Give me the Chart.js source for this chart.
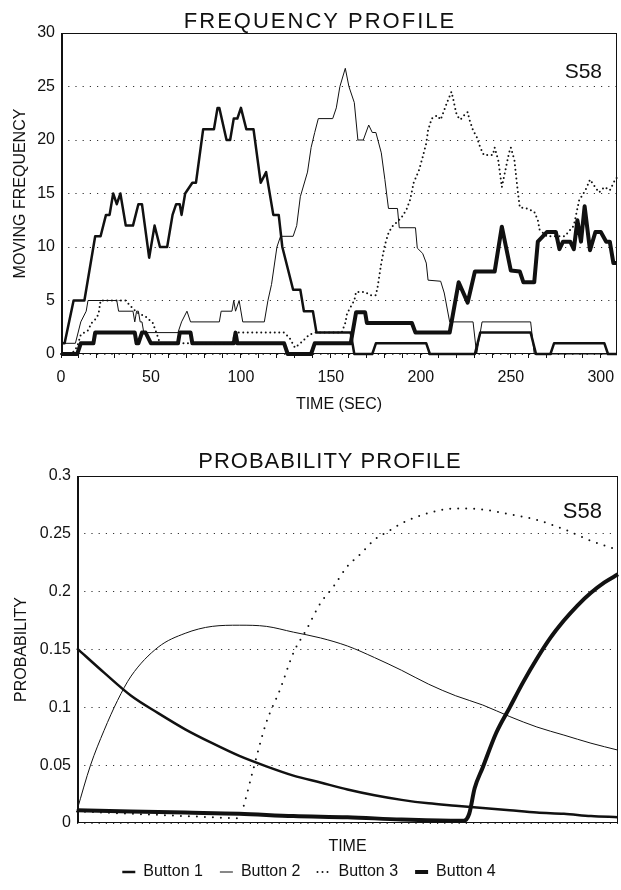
<!DOCTYPE html>
<html>
<head>
<meta charset="utf-8">
<script src="https://cdn.jsdelivr.net/npm/chart.js@4"></script>
<style>
html,body{margin:0;padding:0;background:#fff;width:621px;height:890px;overflow:hidden}
canvas{position:absolute;left:0}
#c1{top:0}
#c2{top:425px}
</style>
</head>
<body>
<canvas id="c1" width="621" height="425"></canvas>
<canvas id="c2" width="621" height="465"></canvas>
<script>
// ---------- FREQUENCY PROFILE data (time in seconds, moving frequency) ----------
const b1T = [0,2,7,13,19,22,25,27,29,31,33,36,40,43,45,49,52,55,59,62,64,66,67,69,73,75,79,85,87,88,92,94,96,98,100,103,107,111,114,118,121,123,129,133,135,140,142,161,163,173,175,203,205,230,233,261,264,272,274,302,304,309];
const b1V = [1,1,5,5,11,11,13,13,15,14,15,12,12,14,14,9,12,10,10,13,14,14,13,15,16,16,21,21,23,23,20,20,22,22,23,21,21,16,17,13,13,10,6,6,4,4,2,2,0,0,1,1,0,0,2,2,0,0,1,1,0,0];

const b2T = [0,8,11,14,15,31,32,40,41,42,43,44,45,46,65,67,70,72,88,89,95,96,97,99,101,113,115,117,120,122,129,131,133,137,139,141,143,151,153,155,158,160,163,165,168,171,173,175,178,180,182,187,188,197,198,201,203,204,211,213,216,229,231,234,261,263,309];
const b2V = [1,1,3,4,5,5,4,4,3,4,4,3,3,2,2,3,4,3,3,4,4,5,4,5,3,3,5,6.5,10,11,11,12,14.7,17,19.3,20.7,22,22,23,25,26.7,25,23.5,20,20,21.4,20.7,20.7,18.8,16.3,13.6,13.6,11.8,11.8,9.9,9.4,8.5,6.9,6.8,5.7,3,3,0,3,3,0,0];

const b3T = [0,6,9,11,15,17,20,21,22,36,38,42,47,51,53,55,95,97,124,127,130,133,138,141,156,158,159,161,163,164,169,172,175,176,178,180,182,184,189,192,194,196,199,201,203,204,206,209,211,213,215,217,218,219,220,222,224,226,227,229,231,233,235,240,241,243,245,247,249,250,252,253,254,255,259,263,265,266,270,275,280,285,288,290,292,294,296,299,302,305,308,309];
const b3V = [0,0,0.7,1.8,2.2,2.9,3.4,3.9,5,5,4.6,3.9,3.5,2.9,2,1,1,2,2,1.5,0.6,1,1.8,2,2,2.9,3.8,4.4,5,5.8,5.8,5.5,5.5,6.3,8.5,10.2,11.3,11.9,12.7,13.5,14.4,16,17.2,18.4,19.7,20.9,22,22.3,21.9,22.8,23.7,24.5,23.8,23,22.3,21.9,22.3,22.6,21.9,20.9,20.3,19.3,18.6,18.6,19.3,18.1,15.6,17.2,18.8,19.3,18.1,16.5,15,13.7,13.6,13.3,12.5,11.6,11,11,11,12,14.4,14.9,15.5,16.3,15.8,15.1,15.6,15.3,16.3,16.5];

const b4T = [0,9,11,18,19,41,42,43,45,47,50,65,66,72,73,96,97,98,124,126,139,141,161,164,169,170,195,197,216,221,226,230,241,245,250,255,257,263,265,270,275,277,279,283,285,287,289,291,294,297,300,303,305,307,309];
const b4V = [0,0,1,1,2,2,1,1,2,2,1,1,2,2,1,1,2,1,1,0,0,1,1,3.9,3.9,2.9,2.9,2,2,6.7,4.8,7.7,7.7,11.9,7.8,7.7,6.7,6.7,10.5,11.4,11.4,9.8,10.5,10.5,9.8,12.5,10.5,13.8,9.7,11.4,11.4,10.5,10.5,8.5,8.5];

const freqTicks = [0,5,10,15,20,25,30];
const timeLabelStep = 50;

// ---------- PROBABILITY PROFILE data (relative time 0-100, probability) ----------
const p1X = [0,5,10,15,20,25,30,35,40,45,50,55,60,65,70,75,80,85,90,95,100];
const p1Y = [0.151,0.130,0.110,0.095,0.081,0.069,0.058,0.049,0.041,0.035,0.029,0.024,0.020,0.017,0.015,0.013,0.011,0.009,0.008,0.006,0.005];

const p2X = [0,2.5,5,7.5,10,15,20,25,30,35,40,45,50,55,60,65,70,75,80,85,90,95,100];
const p2Y = [0.011,0.050,0.080,0.106,0.127,0.152,0.164,0.170,0.171,0.170,0.165,0.160,0.153,0.143,0.132,0.120,0.110,0.102,0.092,0.083,0.076,0.069,0.063];

const p3X = [0,5,10,15,20,25,30,31,32.5,35,37.5,40,42.5,45,47.5,50,52.5,55,57.5,60,65,70,75,80,85,90,95,100];
const p3Y = [0.010,0.009,0.008,0.007,0.006,0.005,0.004,0.018,0.045,0.087,0.115,0.147,0.168,0.190,0.205,0.222,0.233,0.245,0.252,0.259,0.268,0.272,0.271,0.267,0.262,0.254,0.244,0.236];

const p4X = [0,10,20,30,40,50,60,70,71.5,72.5,73.5,75,77.5,80,82.5,85,87.5,90,92.5,95,97.5,100];
const p4Y = [0.011,0.010,0.009,0.008,0.006,0.005,0.003,0.002,0.002,0.008,0.030,0.048,0.078,0.100,0.122,0.142,0.160,0.175,0.188,0.199,0.208,0.215];

const buttonNames = ['Button 1','Button 2','Button 3','Button 4'];

// ---------- helpers ----------
const FONT = "'Liberation Sans', Arial, Helvetica, sans-serif";
Chart.defaults.font.family = FONT;
Chart.defaults.color = '#111';

function series(label, xs, ys, width, dotted, extra) {
  return Object.assign({
    label,
    data: xs.map((x, i) => ({x, y: ys[i]})),
    borderColor: '#111',
    backgroundColor: '#111',
    borderWidth: width,
    borderDash: dotted ? [0, dotted] : [],
    borderCapStyle: dotted ? 'round' : 'butt',
    borderJoinStyle: 'round',
    pointRadius: 0,
    pointHoverRadius: 0,
    tension: 0,
    fill: false,
    clip: 6
  }, extra || {});
}

const framePlugin = {
  id: 'frame',
  beforeDatasetsDraw(chart) {
    const {ctx, chartArea: a} = chart;
    ctx.save();
    ctx.strokeStyle = '#111';
    ctx.lineWidth = 1;
    ctx.setLineDash([]);
    ctx.strokeRect(a.left + 0.5, a.top + 0.5, a.right - a.left - 1, a.bottom - a.top - 1);
    ctx.lineWidth = 2;
    ctx.beginPath();
    ctx.moveTo(a.left + 1, a.top);
    ctx.lineTo(a.left + 1, a.bottom);
    ctx.stroke();
    ctx.restore();
  }
};

const notesPlugin = {
  id: 'notes',
  afterDraw(chart, args, opts) {
    const ctx = chart.ctx;
    (opts.items || []).forEach(n => {
      ctx.save();
      ctx.font = n.size + 'px ' + FONT;
      ctx.fillStyle = '#111';
      ctx.textAlign = n.align || 'center';
      ctx.textBaseline = 'alphabetic';
      if (n.spacing) ctx.letterSpacing = n.spacing + 'px';
      ctx.fillText(n.text, n.x, n.y);
      ctx.restore();
    });
  }
};

// ---------- top chart ----------
new Chart(document.getElementById('c1'), {
  type: 'line',
  data: {
    datasets: [
      series(buttonNames[0], b1T, b1V, 2.5, 0),
      series(buttonNames[1], b2T, b2V, 1, 0),
      series(buttonNames[2], b3T, b3V, 2, 4.5),
      series(buttonNames[3], b4T, b4V, 4, 0)
    ]
  },
  options: {
    responsive: false,
    animation: false,
    events: [],
    layout: {padding: {top: 33, right: 4, left: 0, bottom: 0}},
    plugins: {
      legend: {display: false},
      tooltip: {enabled: false},
      notes: {items: [
        {text: 'FREQUENCY PROFILE', x: 320, y: 28, size: 22, spacing: 2},
        {text: 'S58', x: 602, y: 78, size: 21, align: 'right'}
      ]}
    },
    scales: {
      x: {
        type: 'linear', min: 0, max: 309,
        afterFit: s => { s.height = 71; s.paddingLeft = 0; s.paddingRight = 0; },
        ticks: {
          stepSize: 10, autoSkip: false, maxRotation: 0, includeBounds: false,
          padding: 10, font: {size: 16}, color: '#111',
          callback: v => (v % timeLabelStep === 0 ? String(v) : '')
        },
        grid: {drawOnChartArea: false, drawTicks: true, tickLength: 4, color: '#111'},
        border: {display: false},
        title: {display: true, text: 'TIME (SEC)', font: {size: 16}, color: '#111', padding: {top: 0, bottom: 11}}
      },
      y: {
        min: 0, max: 30,
        afterFit: s => { s.width = 61; },
        afterBuildTicks: s => { s.ticks = freqTicks.map(v => ({value: v})); },
        ticks: {padding: 6, font: {size: 16}, color: '#111'},
        grid: {color: '#333', drawTicks: false, lineWidth: 1},
        border: {display: false, dash: [1.2, 6]},
        title: {display: true, text: 'MOVING FREQUENCY', font: {size: 16}, color: '#111', padding: {top: 11, bottom: 0}}
      }
    }
  },
  plugins: [framePlugin, notesPlugin]
});

// ---------- bottom chart ----------
new Chart(document.getElementById('c2'), {
  type: 'line',
  data: {
    datasets: [
      series(buttonNames[0], p1X, p1Y, 2.5, 0, {cubicInterpolationMode: 'monotone'}),
      series(buttonNames[1], p2X, p2Y, 1, 0, {cubicInterpolationMode: 'monotone'}),
      series(buttonNames[2], p3X, p3Y, 2, 8, {cubicInterpolationMode: 'monotone'}),
      series(buttonNames[3], p4X, p4Y, 4, 0, {cubicInterpolationMode: 'monotone'})
    ]
  },
  options: {
    responsive: false,
    animation: false,
    events: [],
    layout: {padding: {top: 51, right: 3, left: 0, bottom: 0}},
    plugins: {
      legend: {
        display: true, position: 'bottom',
        labels: {
          usePointStyle: true, pointStyle: 'line', pointStyleWidth: 13,
          padding: 17, font: {size: 16}, color: '#111',
          generateLabels: chart => chart.data.datasets.map((ds, i) => ({
            text: ds.label,
            datasetIndex: i,
            hidden: false,
            pointStyle: 'line',
            strokeStyle: '#111',
            fillStyle: '#111',
            fontColor: '#111',
            lineWidth: ds.borderWidth,
            lineDash: ds.borderDash && ds.borderDash.length ? [0, 5] : [],
            lineCap: ds.borderCapStyle
          }))
        }
      },
      tooltip: {enabled: false},
      notes: {items: [
        {text: 'PROBABILITY PROFILE', x: 330, y: 43, size: 22, spacing: 1},
        {text: 'S58', x: 602, y: 93, size: 22, align: 'right'}
      ]}
    },
    scales: {
      x: {
        type: 'linear', min: 0, max: 100,
        afterFit: s => { s.height = 24; s.paddingLeft = 0; s.paddingRight = 0; },
        ticks: {display: false},
        grid: {display: false},
        border: {display: false},
        title: {display: true, text: 'TIME', font: {size: 16}, color: '#111', padding: {top: 0, bottom: -9}}
      },
      y: {
        min: 0, max: 0.3,
        afterFit: s => { s.width = 77; },
        ticks: {stepSize: 0.05, padding: 6, font: {size: 16}, color: '#111',
                callback: v => String(Math.round(v * 100) / 100)},
        grid: {color: '#333', drawTicks: false, lineWidth: 1},
        border: {display: false, dash: [1.2, 6]},
        title: {display: true, text: 'PROBABILITY', font: {size: 16}, color: '#111', padding: {top: 12, bottom: 0}}
      }
    }
  },
  plugins: [framePlugin, notesPlugin]
});
</script>
</body>
</html>
